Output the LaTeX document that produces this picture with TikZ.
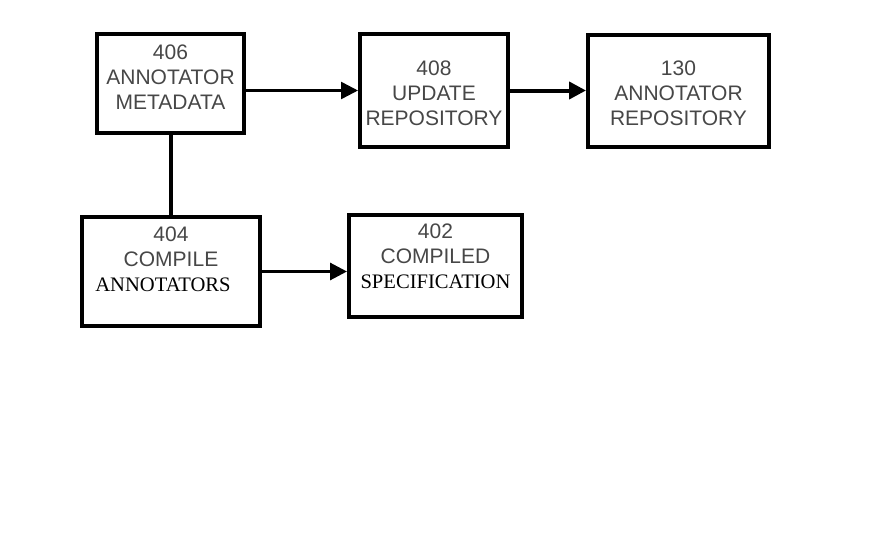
\documentclass[tikz,border=0pt]{standalone}
\usepackage{fontspec}
\setmainfont{Liberation Serif}
\setsansfont{Liberation Sans}
\usetikzlibrary{arrows.meta}
\newcommand{\serifline}[1]{{\rmfamily\fontsize{20.6}{25}\selectfont\color{black}#1}}
\tikzset{
    flow box/.style={
        draw,line width=4pt,
        fill=white,inner sep=0pt
    },
    box text/.style={
        font=\sffamily\fontsize{21}{25}\selectfont,
        text=black!72,align=center
    },
    >={Triangle[length=17pt,width=17pt]}
}

\begin{document}
\begin{tikzpicture}[x=1pt,y=-1pt]
\useasboundingbox[fill=white] (0,0) rectangle (870,535);
\node[flow box,minimum width=147pt,minimum height=99pt] (b406) at (170.5,83.5) {};
\node[flow box,minimum width=148pt,minimum height=113pt] (b408) at (434,90.5) {};
\node[flow box,minimum width=181pt,minimum height=112pt] (b130) at (678.5,91) {};
\node[flow box,minimum width=178pt,minimum height=109pt] (b404) at (171,271.5) {};
\node[flow box,minimum width=173pt,minimum height=102pt] (b402) at (435.5,266) {};
% box labels
\node[box text] (t406) at (170.5,77) {406\\ANNOTATOR\\METADATA};
\node[box text] (t408) at (434,93) {408\\UPDATE\\REPOSITORY};
\node[box text] (t130) at (678.5,93) {130\\ANNOTATOR\\REPOSITORY};
\node[box text] (t404) at (171,259) {404\\COMPILE\\\serifline{\hspace*{-16pt}ANNOTATORS}};
\node[box text] (t402) at (435.5,256) {402\\COMPILED\\\serifline{SPECIFICATION}};
% connectors
\draw[->,line width=2.5pt] (b406.east |- b408.west) -- (b408.west);
\draw[->,line width=4pt] (b408.east) -- (b408.east -| b130.west);
\draw[line width=4pt] (b406.south) -- (b406.south |- b404.north);
\draw[->,line width=3pt] (b404.east) -- (b404.east -| b402.west);
\end{tikzpicture}
\end{document}
